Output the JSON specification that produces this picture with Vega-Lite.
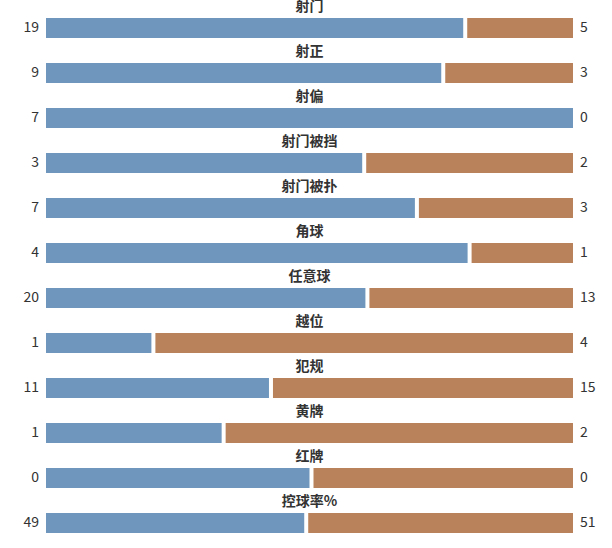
{
  "$schema": "https://vega.github.io/schema/vega-lite/v6.json",
  "autosize": "none",
  "width": 527,
  "height": 515,
  "padding": {"left": 46, "top": 18, "right": 39, "bottom": 15},
  "background": "white",
  "config": {"view": {"stroke": null}},
  "data": {
    "values": [
      {"stat": "射门", "team": "home", "value": 19, "share": 0.7917},
      {"stat": "射门", "team": "away", "value": 5, "share": 0.2083},
      {"stat": "射正", "team": "home", "value": 9, "share": 0.75},
      {"stat": "射正", "team": "away", "value": 3, "share": 0.25},
      {"stat": "射偏", "team": "home", "value": 7, "share": 1},
      {"stat": "射偏", "team": "away", "value": 0, "share": 0},
      {"stat": "射门被挡", "team": "home", "value": 3, "share": 0.6},
      {"stat": "射门被挡", "team": "away", "value": 2, "share": 0.4},
      {"stat": "射门被扑", "team": "home", "value": 7, "share": 0.7},
      {"stat": "射门被扑", "team": "away", "value": 3, "share": 0.3},
      {"stat": "角球", "team": "home", "value": 4, "share": 0.8},
      {"stat": "角球", "team": "away", "value": 1, "share": 0.2},
      {"stat": "任意球", "team": "home", "value": 20, "share": 0.6061},
      {"stat": "任意球", "team": "away", "value": 13, "share": 0.3939},
      {"stat": "越位", "team": "home", "value": 1, "share": 0.2},
      {"stat": "越位", "team": "away", "value": 4, "share": 0.8},
      {"stat": "犯规", "team": "home", "value": 11, "share": 0.4231},
      {"stat": "犯规", "team": "away", "value": 15, "share": 0.5769},
      {"stat": "黄牌", "team": "home", "value": 1, "share": 0.3333},
      {"stat": "黄牌", "team": "away", "value": 2, "share": 0.6667},
      {"stat": "红牌", "team": "home", "value": 0, "share": 0.5},
      {"stat": "红牌", "team": "away", "value": 0, "share": 0.5},
      {"stat": "控球率%", "team": "home", "value": 49, "share": 0.49},
      {"stat": "控球率%", "team": "away", "value": 51, "share": 0.51}
    ]
  },
  "transform": [
    {"stack": "share", "groupby": ["stat"], "sort": [{"field": "team", "order": "descending"}], "as": ["s0", "s1"]}
  ],
  "encoding": {
    "y": {
      "field": "stat",
      "type": "nominal",
      "sort": null,
      "axis": null,
      "scale": {"paddingInner": 0.5556, "paddingOuter": 0}
    }
  },
  "layer": [
    {
      "transform": [{"filter": "datum.team === 'home' && datum.share > 0"}],
      "mark": {"type": "bar", "color": "#6f97bd"},
      "encoding": {
        "x": {"field": "s0", "type": "quantitative", "scale": {"domain": [0, 1], "nice": false, "zero": false}, "axis": null},
        "x2": {"field": "s1"}
      }
    },
    {
      "transform": [{"filter": "datum.team === 'away' && datum.share > 0"}],
      "mark": {"type": "bar", "color": "#b9825a", "xOffset": 4},
      "encoding": {
        "x": {"field": "s0", "type": "quantitative"},
        "x2": {"field": "s1"}
      }
    },
    {
      "transform": [{"filter": "datum.team === 'home'"}],
      "mark": {"type": "text", "align": "right", "baseline": "middle", "dx": -7, "fontSize": 14, "font": "Noto Sans CJK SC", "color": "#333333"},
      "encoding": {
        "x": {"datum": 0, "type": "quantitative"},
        "text": {"field": "value"}
      }
    },
    {
      "transform": [{"filter": "datum.team === 'away'"}],
      "mark": {"type": "text", "align": "left", "baseline": "middle", "dx": 7, "fontSize": 14, "font": "Noto Sans CJK SC", "color": "#333333"},
      "encoding": {
        "x": {"datum": 1, "type": "quantitative"},
        "text": {"field": "value"}
      }
    },
    {
      "transform": [{"filter": "datum.team === 'home'"}],
      "mark": {"type": "text", "align": "center", "baseline": "middle", "dy": -21, "fontSize": 14, "fontWeight": "bold", "font": "Noto Sans CJK SC", "color": "#333333"},
      "encoding": {
        "x": {"datum": 0.5, "type": "quantitative"},
        "text": {"field": "stat"}
      }
    }
  ]
}
